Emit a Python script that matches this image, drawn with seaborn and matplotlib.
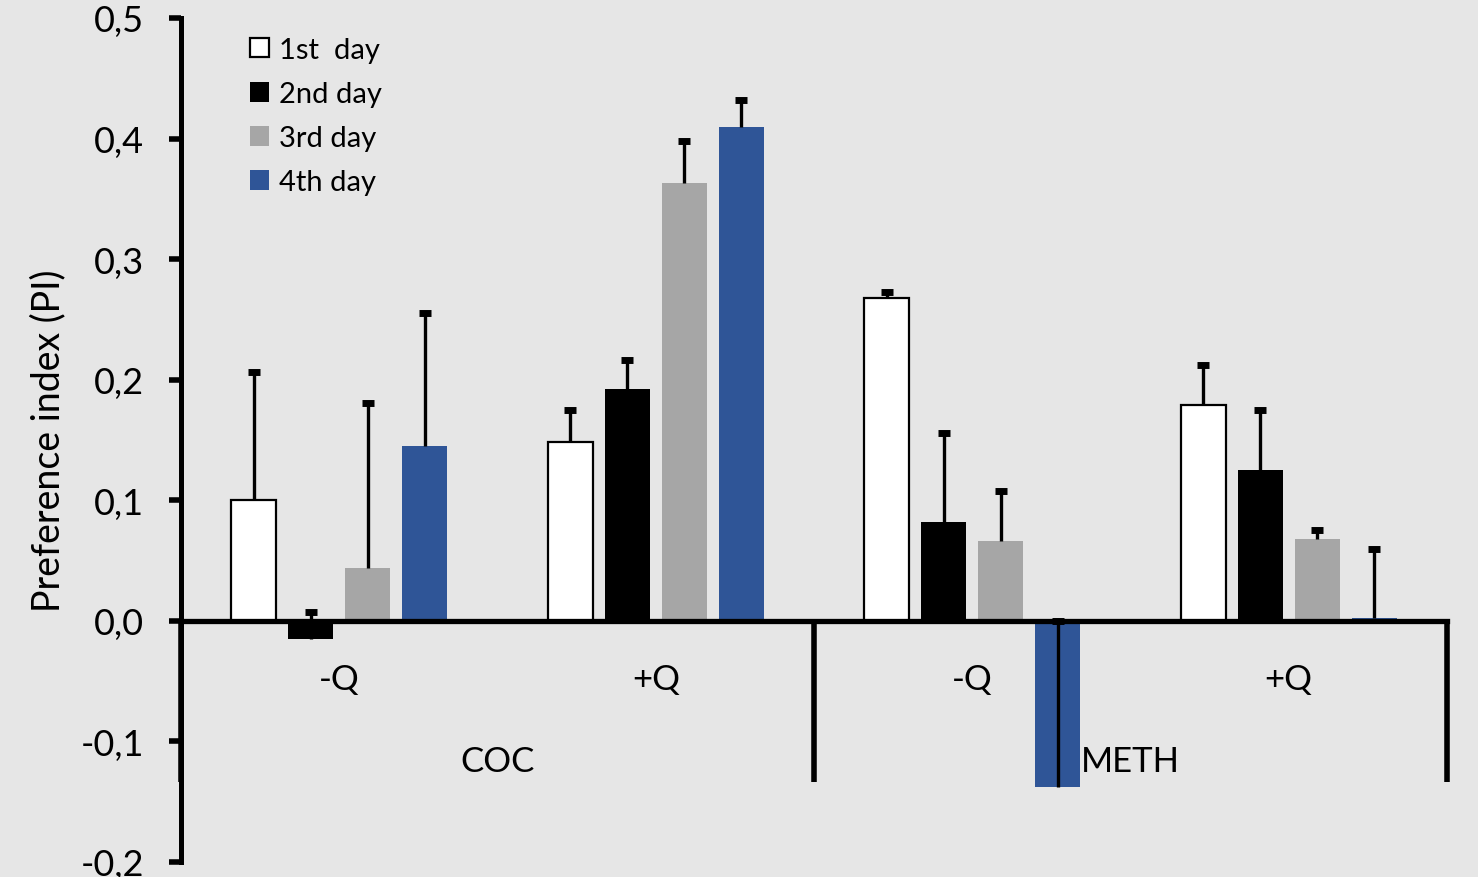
import matplotlib
matplotlib.use("Agg")
import matplotlib.pyplot as plt
import seaborn as sns
import pandas as pd
from matplotlib.ticker import FuncFormatter, FixedLocator
from matplotlib.patches import Patch

# --- data -------------------------------------------------------------
conditions = ["COC -Q", "COC +Q", "METH -Q", "METH +Q"]
q_labels = ["-Q", "+Q", "-Q", "+Q"]
drugs = ["COC", "METH"]
days = ["1st  day", "2nd day", "3rd day", "4th day"]

pi_day1 = [0.100, 0.148, 0.268, 0.179]
pi_day2 = [-0.015, 0.192, 0.082, 0.125]
pi_day3 = [0.044, 0.363, 0.066, 0.068]
pi_day4 = [0.145, 0.410, -0.138, 0.002]

err_day1 = [0.106, 0.027, 0.005, 0.033]
err_day2 = [0.022, 0.024, 0.074, 0.050]
err_day3 = [0.137, 0.035, 0.042, 0.007]
err_day4 = [0.110, 0.022, 0.138, 0.058]

y_ticks = [-0.2, -0.1, 0.0, 0.1, 0.2, 0.3, 0.4, 0.5]

day_colors = ["#ffffff", "#000000", "#a6a6a6", "#2f5597"]
bg = "#e6e6e6"

values = [pi_day1, pi_day2, pi_day3, pi_day4]
errors = [err_day1, err_day2, err_day3, err_day4]

df = pd.DataFrame(
    [(c, d, v) for d, vals in zip(days, values) for c, v in zip(conditions, vals)],
    columns=["condition", "day", "pi"],
)

# --- figure -----------------------------------------------------------
plt.rcParams["font.family"] = ["Lato", "DejaVu Sans"]
W, H = 1478, 878
fig = plt.figure(figsize=(W / 100, H / 100), dpi=100, facecolor=bg)
ax = fig.add_axes([181 / W, 1 - 863 / H, (1447 - 181) / W, (863 - 19) / H])
ax.set_facecolor(bg)

sns.barplot(
    data=df, x="condition", y="pi", hue="day",
    order=conditions, hue_order=days, palette=day_colors,
    width=0.72, gap=0.21, saturation=1, errorbar=None,
    linewidth=0, legend=False, ax=ax,
)

# outline the white bars
for bar in ax.containers[0]:
    bar.set_edgecolor("black")
    bar.set_linewidth(1.6)

# one-sided (plus) error bars
for cont, errs in zip(ax.containers, errors):
    for bar, e in zip(cont, errs):
        x = bar.get_x() + bar.get_width() / 2
        v = bar.get_y() + bar.get_height()
        ax.vlines(x, v, v + e, colors="black", linewidth=2.4, zorder=3)
        ax.plot([x], [v + e], marker="_", markersize=9, markeredgewidth=5,
                color="black", zorder=3)

ax.set_xlim(-0.5, 3.5)
ax.set_ylim(-0.2, 0.5)

# axes styling
for s in ["top", "right"]:
    ax.spines[s].set_visible(False)
ax.spines["left"].set_linewidth(3.6)
ax.spines["bottom"].set_position(("data", 0))
ax.spines["bottom"].set_linewidth(3.8)
ax.spines["bottom"].set_zorder(4)

ax.yaxis.set_major_locator(FixedLocator(y_ticks))
ax.yaxis.set_major_formatter(FuncFormatter(lambda v, p: f"{v:.1f}".replace(".", ",")))
ax.tick_params(axis="y", length=8.5, width=4, pad=18, labelsize=26, colors="black")
ax.set_xticks(range(len(conditions)))
ax.set_xticklabels(q_labels)
ax.tick_params(axis="x", length=0, pad=30, labelsize=25)
ax.set_xlabel("")

ax.set_ylabel("Preference index (PI)", fontsize=27)
ax.yaxis.label.set_va("center")
ax.yaxis.set_label_coords(-0.105, 0.5)

# group separators and drug labels
ax.vlines([-0.5, 1.5, 3.5], -0.134, 0, colors="black", linewidth=4,
          clip_on=False, zorder=4)
for i, name in enumerate(drugs):
    ax.text(2 * i + 0.5, -0.1165, name, ha="center", va="center", fontsize=25)

# legend
handles = [
    Patch(facecolor=c, edgecolor="black" if i == 0 else c, linewidth=1.6 if i == 0 else 0)
    for i, c in enumerate(day_colors)
]
fig.legend(
    handles, days, loc="upper left", bbox_to_anchor=(250 / W, 1 - 38 / H),
    frameon=False, fontsize=21, handlelength=0.65, handleheight=0.65,
    handletextpad=0.35, labelspacing=0.62, borderpad=0, borderaxespad=0,
)

fig.savefig("out.png", dpi=100, facecolor=bg)
